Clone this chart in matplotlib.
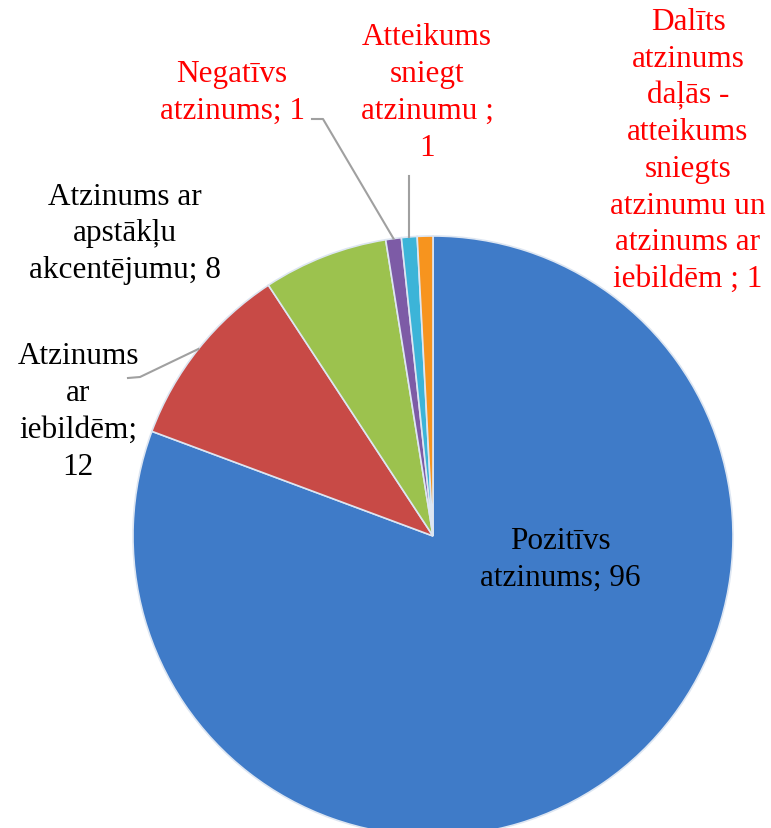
import numpy as np
import matplotlib.pyplot as plt

labels = ['Pozitīvs\natzinums; 96',
          'Atzinums\nar\niebildēm;\n12',
          'Atzinums ar\napstākļu\nakcentējumu; 8',
          'Negatīvs\natzinums; 1',
          'Atteikums\nsniegt\natzinumu ;\n1',
          'Dalīts\natzinums\ndaļās -\natteikums\nsniegts\natzinumu un\natzinums ar\niebildēm ; 1']
values = [96, 12, 8, 1, 1, 1]
colors = ['#3F7BC8', '#C84A46', '#9CC24E', '#7D5BA6', '#3CB4D8', '#F7941E']
text_colors = ['black', 'black', 'black', 'red', 'red', 'red']

plt.rcParams['font.family'] = ['Liberation Serif', 'DejaVu Serif']

W, H = 771, 829
fig = plt.figure(figsize=(W/100, H/100), dpi=100)
ax = fig.add_axes([0, 0, 1, 1])

cx, cy, R = 433, H - 537, 300
wedges, _ = ax.pie(values, colors=colors, startangle=90, counterclock=False,
                   center=(cx, cy), radius=R, frame=True,
                   wedgeprops=dict(edgecolor='#DDE6F2', linewidth=1.2))
ax.set_xlim(0, W)
ax.set_ylim(0, H)
ax.set_aspect('equal')
ax.axis('off')

# label positions (pixel coords from top)
pos = [(560, 560), (78, 412), (125, 234), (232, 93), (427, 93), (688, 151)]
for lab, (x, y), c in zip(labels, pos, text_colors):
    ax.text(x, H - y, lab, ha='center', va='center', fontsize=22.5,
            color=c, linespacing=1.35)

# leader lines
def edge_point(w, r=1.0):
    a = np.deg2rad((w.theta1 + w.theta2) / 2)
    return cx + R * r * np.cos(a), cy + R * r * np.sin(a)

lc = '#A0A0A0'
x1, y1 = edge_point(wedges[1])
ax.plot([128, 140, x1], [H - 379, H - 378, y1], color=lc, lw=1.5)
x3, y3 = edge_point(wedges[3])
ax.plot([312, 323, x3], [H - 120, H - 120, y3], color=lc, lw=1.5)
x4, y4 = edge_point(wedges[4])
ax.plot([x4, x4], [H - 177, y4], color=lc, lw=1.5)

fig.savefig('out.png', dpi=100)
